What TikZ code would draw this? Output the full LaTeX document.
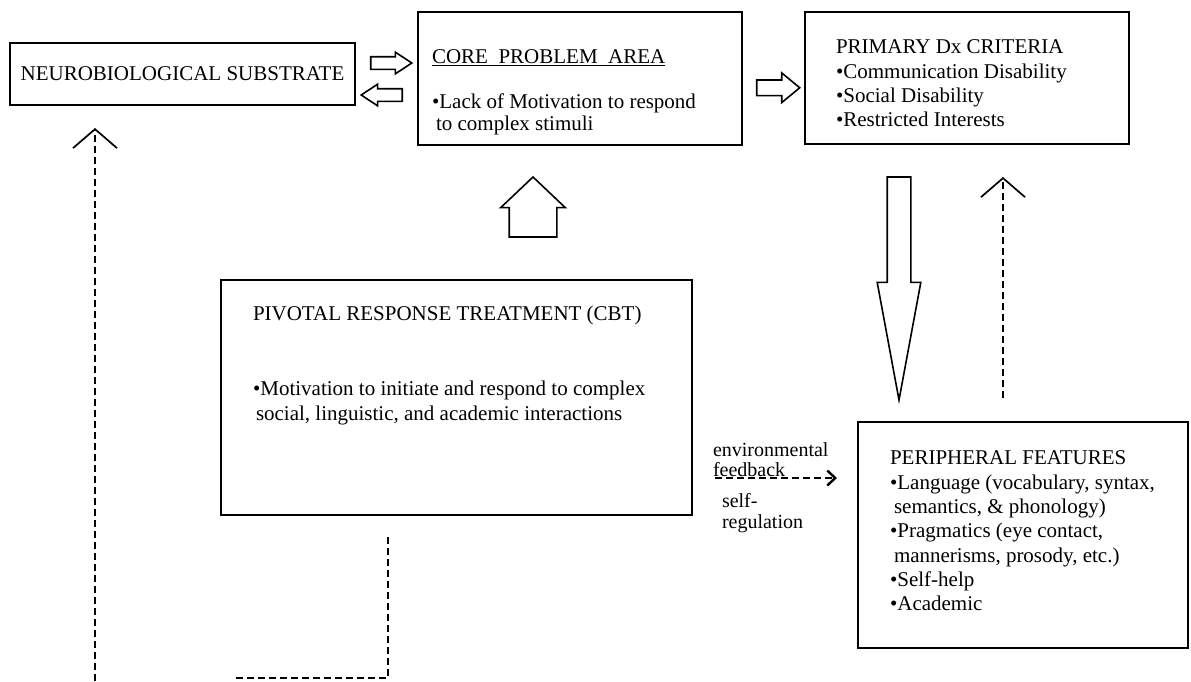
\documentclass[tikz,border=0pt]{standalone}
\usepackage{fontspec}
\setmainfont{Liberation Serif}
\usetikzlibrary{positioning,calc,shapes.arrows,arrows.meta}
\tikzstyle{every node}=[font=\fontsize{21}{24.3}\selectfont, inner sep=0, outer sep=0]
\tikzstyle{box}=[draw, line width=2pt]
\tikzstyle{txt}=[anchor=north west, align=left]
\tikzstyle{blockarrow}=[single arrow, draw, line width=1.6pt]
\tikzstyle{fb}=[line width=1.2pt, dash pattern=on 7pt off 4pt]
\tikzstyle{barb}=[-{Straight Barb[length=19pt,width=44pt,line width=1.7pt]}]

\begin{document}
\begin{tikzpicture}[x=1pt,y=-1pt]
    \useasboundingbox (0,0) rectangle (1191,681);
    % boxes
    \node[box, minimum width=345pt, minimum height=62pt] (neuro) at (182.5,74) {NEUROBIOLOGICAL SUBSTRATE};
    \node[box, minimum width=324pt, minimum height=133pt] (core) at (580,78.5) {};
    \node[box, minimum width=324pt, minimum height=132pt] (primary) at (967,78) {};
    \node[box, minimum width=471pt, minimum height=235pt] (prt) at (456.5,397.5) {};
    \node[box, minimum width=330pt, minimum height=226pt] (periph) at (1023,535) {};
    % box texts
    \node[txt] (coretxt) at (432,50) {\underline{CORE\ \ PROBLEM\ \ AREA}\\[20pt]%
        •Lack of Motivation to respond\\[-2pt]\hspace{4pt}to complex stimuli};
    \node[txt] (primtxt) at (836,40) {PRIMARY Dx CRITERIA\\•Communication Disability\\%
        •Social Disability\\•Restricted Interests};
    \node[txt] (prttxt) at (253,306) {PIVOTAL RESPONSE TREATMENT (CBT)\\[51pt]%
        •Motivation to initiate and respond to complex\\\hspace{3pt}social, linguistic, and academic interactions};
    \node[txt] (periphtxt) at (890,451) {PERIPHERAL FEATURES\\•Language (vocabulary, syntax,\\%
        \hspace{4pt}semantics, \& phonology)\\•Pragmatics (eye contact,\\%
        \hspace{4pt}mannerisms, prosody, etc.)\\•Self-help\\•Academic};
    \node[txt, font=\fontsize{20}{20}\selectfont] (envtxt) at (713,443) {environmental\\feedback};
    \node[txt, font=\fontsize{20}{21}\selectfont] (selftxt) at (722,493) {self-\\regulation};
    % block arrows
    \node[blockarrow, minimum height=41pt, minimum width=20pt, inner ysep=5.5pt, single arrow head extend=4.5pt,
        single arrow tip angle=67] (toCore) at ($(neuro.east)!.5!(core.west |- neuro.east)+(0,-11)$) {};
    \node[blockarrow, minimum height=41pt, minimum width=20pt, inner ysep=5.5pt, single arrow head extend=4.5pt,
        single arrow tip angle=67, shape border rotate=180] (toNeuro) at ($(neuro.east)!.5!(core.west |- neuro.east)+(0,21)$) {};
    \node[blockarrow, minimum height=43pt, minimum width=28pt, inner ysep=7pt, single arrow head extend=7pt,
        single arrow tip angle=79] (toPrim) at ($(core.east)!.5!(primary.west)+(0,9.5)$) {};
    \node[blockarrow, minimum height=60pt, minimum width=63pt, inner xsep=23pt, single arrow head extend=8.5pt,
        single arrow tip angle=93, shape border rotate=90, anchor=tip] (upArrow) at (533,177) {};
    \node[blockarrow, minimum height=223pt, minimum width=42pt, inner xsep=11pt, single arrow head extend=10pt,
        single arrow tip angle=21, shape border rotate=270, anchor=tip] (downArrow) at (899,400) {};
    % feedback lines
    \coordinate (leftBase) at (95,681);
    \coordinate (rightX) at (1003,0);
    \coordinate (loopTop) at (388,537);
    \coordinate (loopEnd) at (235,678);
    \coordinate (fbY) at (0,478);
    \draw[fb, barb, shorten >=23pt] (leftBase) -- (leftBase |- neuro.south);
    \draw[fb, barb, shorten <=24pt, shorten >=33pt] (periph.north -| rightX) -- (primary.south -| rightX);
    \draw[fb] (loopTop) |- (loopEnd);
    \draw[fb, -{Straight Barb[length=8pt,width=15pt,line width=2.4pt]}, shorten <=23pt, shorten >=21pt]
        (prt.east |- fbY) -- (periph.west |- fbY);
\end{tikzpicture}
\end{document}
